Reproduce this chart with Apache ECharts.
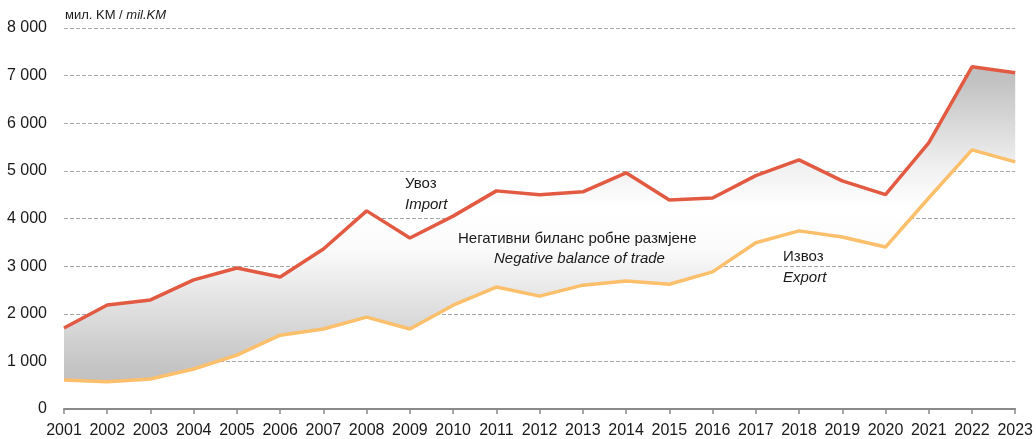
<!DOCTYPE html>
<html>
<head>
<meta charset="utf-8">
<script src="https://cdn.jsdelivr.net/npm/echarts@6/dist/echarts.min.js"></script>
<style>
  html, body { margin: 0; padding: 0; background: #fff; }
  #chart { width: 1036px; height: 439px; }
</style>
</head>
<body>
<div id="chart"></div>
<script>
var years = ['2001', '2002', '2003', '2004', '2005', '2006', '2007', '2008', '2009', '2010', '2011', '2012',
	'2013', '2014', '2015', '2016', '2017', '2018', '2019', '2020', '2021', '2022', '2023'];
// увоз / import
var importValues = [1700, 2185, 2290, 2710, 2960, 2770, 3360, 4160, 3590, 4050, 4580, 4500,
	4560, 4960, 4390, 4430, 4900, 5230, 4790, 4500, 5590, 7185, 7060];
// извоз / export
var exportValues = [610, 570, 630, 840, 1130, 1550, 1680, 1930, 1680, 2180, 2560, 2370,
	2600, 2690, 2620, 2880, 3490, 3740, 3610, 3400, 4430, 5440, 5190];
var yTicks = [0, 1000, 2000, 3000, 4000, 5000, 6000, 7000, 8000];

var font = '"Liberation Sans", Arial, sans-serif';

// разлика за површину између линија
var gap = [];
for (var i = 0; i < importValues.length; i++) {
	gap.push(importValues[i] - exportValues[i]);
}

var myChart = echarts.init(document.getElementById('chart'));

function label(text, left, top, italic) {
	return {
		type: 'text', left: left, top: top, z: 100,
		style: { text: text, fontSize: 15, fontFamily: font, fontStyle: italic ? 'italic' : 'normal', fill: '#1a1a1a' }
	};
}

var option = {
	animation: false,
	grid: { left: 64, right: 18, top: 28, bottom: 30 },
	xAxis: {
		type: 'category',
		boundaryGap: false,
		data: years,
		axisLine: { lineStyle: { color: '#8a8a8a', width: 2 } },
		axisTick: { alignWithLabel: true, length: 5, interval: 0, lineStyle: { color: '#8a8a8a', width: 1.5 } },
		axisLabel: { color: '#1a1a1a', fontSize: 16, fontFamily: font, margin: 14, interval: 0 }
	},
	yAxis: {
		type: 'value',
		min: yTicks[0],
		max: yTicks[yTicks.length - 1],
		interval: 1000,
		axisLine: { show: false },
		axisTick: { show: false },
		axisLabel: {
			color: '#1a1a1a', fontSize: 16, fontFamily: font, margin: 17,
			formatter: function (v) {
				return String(v).replace(/\B(?=(\d{3})+(?!\d))/g, ' ');
			}
		},
		splitLine: { lineStyle: { color: '#a8a8a8', type: [4, 2], width: 1 } }
	},
	graphic: [
		{
			type: 'text', left: 65, top: 9, z: 100,
			style: {
				text: '{a|мил. KM / }{b|mil.KM}',
				rich: {
					a: { fontSize: 13, fontFamily: font, fill: '#1a1a1a' },
					b: { fontSize: 13, fontFamily: font, fontStyle: 'italic', fill: '#1a1a1a' }
				}
			}
		},
		label('Увоз', 405, 176, false),
		label('Import', 405, 197, true),
		label('Негативни биланс робне размјене', 458, 231, false),
		label('Negative balance of trade', 494, 251, true),
		label('Извоз', 783, 249, false),
		label('Export', 783, 270, true)
	],
	series: [
		{
			name: 'base',
			type: 'line',
			stack: 'band',
			data: exportValues,
			symbol: 'none',
			lineStyle: { opacity: 0 },
			silent: true
		},
		{
			name: 'gap',
			type: 'line',
			stack: 'band',
			data: gap,
			symbol: 'none',
			lineStyle: { opacity: 0 },
			silent: true,
			areaStyle: {
				opacity: 1,
				color: {
					type: 'linear', x: 0, y: 28, x2: 0, y2: 409, global: true,
					colorStops: [
						{ offset: 0, color: '#b9b9b9' },
						{ offset: 0.14, color: '#c2c2c2' },
						{ offset: 0.36, color: '#efefef' },
						{ offset: 0.47, color: '#ffffff' },
						{ offset: 0.58, color: '#fbfbfb' },
						{ offset: 0.72, color: '#e2e2e2' },
						{ offset: 0.9, color: '#c3c3c3' },
						{ offset: 1, color: '#bdbdbd' }
					]
				}
			}
		},
		{
			name: 'Извоз',
			type: 'line',
			data: exportValues,
			symbol: 'none',
			lineStyle: { color: '#fcbf6b', width: 3.5 },
			z: 4
		},
		{
			name: 'Увоз',
			type: 'line',
			data: importValues,
			symbol: 'none',
			lineStyle: { color: '#e25a42', width: 3.5 },
			z: 5
		}
	]
};

myChart.setOption(option);
</script>
</body>
</html>
